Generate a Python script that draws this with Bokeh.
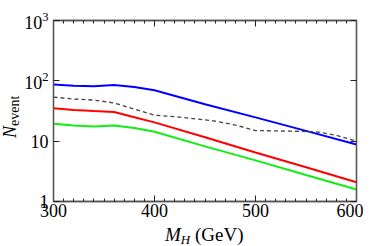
from bokeh.plotting import figure
from bokeh.models import LogAxis, LinearAxis, SingleIntervalTicker, FixedTicker, LogTickFormatter, Range1d, Div
from bokeh.layouts import column
from bokeh.embed import file_html
from bokeh.resources import INLINE

mh_curve = [300, 320, 340, 360, 380, 400, 450, 500, 550, 600]
blue = [87, 83, 81, 85, 79, 70, 41, 24.8, 14.8, 8.8]
red = [35, 33, 31.5, 30.5, 25, 20.5, 11.6, 6.5, 3.7, 2.08]
green = [19.5, 18.2, 17.5, 18.2, 16.5, 14.3, 8.2, 4.8, 2.75, 1.58]
mh_dash = [300, 320, 340, 360, 380, 400, 420, 440, 460, 480, 500, 520, 540, 560, 580, 600]
dashed = [53.7, 50, 48, 43, 34, 27, 25.5, 23.5, 21.5, 18.5, 15, 14.8, 14.6, 14.3, 12.5, 10]

x_major = [300, 400, 500, 600]
y_major = [1, 10, 100, 1000]
x_label_main, x_label_sub, x_label_unit = "M", "H", " (GeV)"
y_label_main, y_label_sub = "N", "event"

FONT = "Liberation Serif"
AXC = "#555555"

p = figure(width=363, height=238, x_axis_type="linear", y_axis_type="log",
           x_range=Range1d(300, 600), y_range=Range1d(1, 1000),
           output_backend="svg", toolbar_location=None,
           min_border_left=53, min_border_right=7, min_border_top=20, min_border_bottom=37)
p.grid.visible = False
p.outline_line_color = AXC
p.outline_line_width = 1.3
p.background_fill_color = "white"
p.border_fill_color = "white"

def style(ax, show_labels):
    ax.axis_line_color = AXC
    ax.axis_line_width = 1.3
    ax.major_tick_in = 6
    ax.major_tick_out = 0
    ax.minor_tick_in = 3
    ax.minor_tick_out = 0
    ax.major_tick_line_color = "#222222"
    ax.minor_tick_line_color = "#222222"
    ax.major_label_text_font = FONT
    ax.major_label_text_font_size = "18px"
    ax.major_label_text_color = "black"
    ax.major_label_standoff = 2
    if not show_labels:
        ax.major_label_text_alpha = 0
        ax.major_label_text_font_size = "1px"

xa = p.xaxis[0]
xa.ticker = SingleIntervalTicker(interval=100, num_minor_ticks=10)
style(xa, True)
ya = p.yaxis[0]
ya.ticker = FixedTicker(ticks=y_major, minor_ticks=[])
ya.formatter = LogTickFormatter(min_exponent=2)
style(ya, True)
ya.major_label_standoff = 5

xtop = LinearAxis(ticker=SingleIntervalTicker(interval=100, num_minor_ticks=10))
style(xtop, False)
p.add_layout(xtop, "above")
yright = LogAxis(ticker=FixedTicker(ticks=y_major, minor_ticks=[]))
style(yright, False)
p.add_layout(yright, "right")

p.line(mh_curve, blue, line_color="#0000ff", line_width=2)
p.line(mh_dash, dashed, line_color="#444444", line_width=1.3, line_dash="4 3")
p.line(mh_curve, red, line_color="#ff0000", line_width=2)
p.line(mh_curve, green, line_color="#11ee11", line_width=2)

html = (
    '<div style="position:relative;width:0;height:0;font-family:\'Liberation Serif\',serif;color:black;">'
    '<span style="position:absolute;left:165px;top:-25px;font-size:19px;line-height:1;white-space:nowrap;">'
    f'<i>{x_label_main}</i><span style="font-size:13px;position:relative;top:3px;font-style:italic;">{x_label_sub}</span>{x_label_unit}</span>'
    '<span style="position:absolute;left:1px;top:-112px;font-size:18px;line-height:1;white-space:nowrap;'
    'transform:rotate(-90deg);transform-origin:left top;">'
    f'<i>{y_label_main}</i><span style="font-size:14px;position:relative;top:3px;">{y_label_sub}</span></span>'
    '</div>'
)
div = Div(text=html, width=363, height=8, margin=0)

layout = column(p, div, spacing=0)
open("out.html", "w").write(file_html(layout, INLINE))
